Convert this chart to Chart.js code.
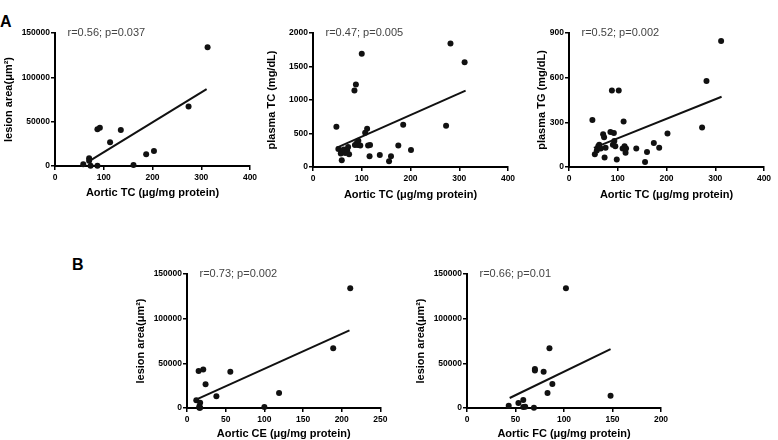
<!DOCTYPE html>
<html>
<head>
<meta charset="utf-8">
<script src="https://cdn.jsdelivr.net/npm/chart.js@4.4.1/dist/chart.umd.min.js"></script>
<style>
  html, body { margin: 0; padding: 0; background: #fff; width: 778px; height: 440px; overflow: hidden; }
  canvas { position: absolute; }
  .lab { position: absolute; font: bold 16px "Liberation Sans", Arial, sans-serif; color: #000; }
</style>
</head>
<body>
<div class="lab" style="left:0px;top:13px;">A</div>
<div class="lab" style="left:72px;top:256px;">B</div>
<canvas id="a1"></canvas>
<canvas id="a2"></canvas>
<canvas id="a3"></canvas>
<canvas id="b1"></canvas>
<canvas id="b2"></canvas>
<script>
// ---- Data ----
// Panel A1: Aortic TC vs lesion area
const a1AorticTC = [58, 70, 70, 73, 87, 87, 92, 113, 135, 161, 187, 203, 274, 313];
const a1Lesion   = [1900, 8700, 6000, 300, 300, 41400, 43200, 26700, 40600, 1100, 13200, 16900, 67000, 134000];
const a1FitX = [66, 311];
const a1FitY = [4000, 86800];
const a1Note = "r=0.56; p=0.037";

// Panel A2: Aortic TC vs plasma TC
const a2AorticTC = [48, 52, 57, 59, 61, 63, 66, 70, 72, 74, 85, 88, 86, 90, 93, 92, 97, 100, 107, 111, 113, 117, 116, 137, 156, 160, 175, 185, 201, 273, 282, 311];
const a2PlasmaTC = [600, 270, 200, 100, 230, 260, 210, 250, 300, 190, 1140, 1230, 330, 360, 390, 330, 320, 1690, 510, 570, 320, 330, 160, 180, 85, 160, 320, 630, 255, 615, 1845, 1565];
const a2FitX = [48, 313];
const a2FitY = [285, 1140];
const a2Note = "r=0.47; p=0.005";

// Panel A3: Aortic TC vs plasma TG
const a3AorticTC = [48, 53, 57, 60, 62, 65, 70, 72, 73, 75, 85, 88, 90, 92, 93, 95, 98, 102, 110, 112, 114, 116, 117, 138, 156, 160, 174, 185, 202, 273, 282, 312];
const a3PlasmaTG = [315, 86, 110, 140, 150, 125, 220, 200, 63, 130, 235, 513, 150, 228, 175, 140, 50, 513, 125, 306, 140, 95, 125, 124, 34, 100, 162, 130, 225, 266, 578, 846];
const a3FitX = [51, 313];
const a3FitY = [128, 472];
const a3Note = "r=0.52; p=0.002";

// Panel B1: Aortic CE vs lesion area
const b1AorticCE = [211, 189, 21, 15, 56, 24, 38, 119, 12, 17, 16, 100, 16, 17];
const b1Lesion   = [134000, 67000, 43200, 41400, 40600, 26700, 13200, 16900, 8700, 6000, 1900, 1100, 300, 300];
const b1FitX = [11, 210];
const b1FitY = [9000, 86900];
const b1Note = "r=0.73; p=0.002";

// Panel B2: Aortic FC vs lesion area
const b2AorticFC = [102, 85, 70, 70, 79, 88, 83, 148, 58, 53, 43, 60, 58, 69];
const b2Lesion   = [134000, 67000, 43600, 42000, 40600, 26900, 16800, 13800, 9000, 5600, 2600, 1500, 1100, 400];
const b2FitX = [44, 148];
const b2FitY = [11200, 66000];
const b2Note = "r=0.66; p=0.01";

// Axis ticks / titles
const lesionTitle = "lesion area(μm²)";
const lesionTicks = { max: 150000, step: 50000 };

const FONT = '"Liberation Sans", Arial, Helvetica, sans-serif';

const notePlugin = {
  id: 'note',
  afterDraw(chart, args, opts) {
    const { ctx, chartArea } = chart;
    ctx.save();
    ctx.font = '11px ' + FONT;
    ctx.fillStyle = '#444';
    ctx.textBaseline = 'middle';
    ctx.textAlign = 'left';
    ctx.fillText(opts.text, chartArea.left + 12.5, chartArea.top);
    ctx.restore();
  }
};

function pts(xs, ys) { return xs.map((x, i) => ({ x: x, y: ys[i] })); }

function makePanel(id, c) {
  const cv = document.getElementById(id);
  cv.width = c.cw; cv.height = c.ch;
  cv.style.left = c.cl + 'px'; cv.style.top = c.ct + 'px';
  cv.style.width = c.cw + 'px'; cv.style.height = c.ch + 'px';

  const LH = 11 * 1.2;
  const yScaleLeft = c.yTitleX - LH / 2;         // page coords
  const yW = c.al - yScaleLeft;
  const xScaleBottom = c.xTitleY + LH / 2;
  const xH = xScaleBottom - c.ab;

  const pad = {
    left: yScaleLeft - c.cl,
    right: (c.cl + c.cw) - c.ar,
    top: c.at - c.ct,
    bottom: (c.ct + c.ch) - xScaleBottom
  };

  const tickFont = { family: FONT, size: 8.5, weight: 'bold' };
  const titleFont = { family: FONT, size: 11, weight: 'bold' };

  new Chart(cv, {
    type: 'scatter',
    data: {
      datasets: [
        {
          data: pts(c.xs, c.ys),
          pointRadius: 3,
          pointHoverRadius: 3,
          pointBackgroundColor: '#111',
          pointBorderColor: '#111',
          pointBorderWidth: 0,
          clip: false,
          order: 1
        },
        {
          type: 'line',
          data: pts(c.fx, c.fy),
          borderColor: '#111',
          borderWidth: 2,
          pointRadius: 0,
          fill: false,
          clip: false,
          order: 2
        }
      ]
    },
    plugins: [notePlugin],
    options: {
      responsive: false,
      animation: false,
      devicePixelRatio: 1,
      layout: { padding: pad },
      plugins: {
        legend: { display: false },
        tooltip: { enabled: false },
        note: { text: c.note }
      },
      scales: {
        x: {
          type: 'linear',
          position: 'bottom',
          min: 0, max: c.xMax,
          afterFit: s => { s.height = xH; },
          ticks: { stepSize: c.xStep, color: '#000', font: tickFont, padding: 2.5, maxRotation: 0, callback: v => String(v) },
          grid: { drawOnChartArea: false, drawTicks: true, tickLength: 4, color: '#000', lineWidth: 1.5 },
          border: { display: true, color: '#000', width: 2 },
          title: { display: true, text: c.xTitle, color: '#000', font: titleFont, padding: 0 }
        },
        y: {
          type: 'linear',
          position: 'left',
          min: 0, max: c.yMax,
          afterFit: s => { s.width = yW; },
          ticks: { stepSize: c.yStep, color: '#000', font: tickFont, padding: 1, callback: v => String(v) },
          grid: { drawOnChartArea: false, drawTicks: true, tickLength: 4, color: '#000', lineWidth: 1.5 },
          border: { display: true, color: '#000', width: 2 },
          title: { display: true, text: c.yTitle, color: '#000', font: titleFont, padding: 0 }
        }
      }
    }
  });
}

makePanel('a1', {
  cl: 0, ct: 20, cw: 270, ch: 200,
  al: 55, ar: 250, at: 33, ab: 166,
  yTitleX: 9, xTitleY: 193,
  xMax: 400, xStep: 100, yMax: lesionTicks.max, yStep: lesionTicks.step,
  xTitle: "Aortic TC (μg/mg protein)", yTitle: lesionTitle,
  xs: a1AorticTC, ys: a1Lesion, fx: a1FitX, fy: a1FitY, note: a1Note
});

makePanel('a2', {
  cl: 255, ct: 20, cw: 265, ch: 200,
  al: 313, ar: 508, at: 33, ab: 167,
  yTitleX: 272, xTitleY: 195,
  xMax: 400, xStep: 100, yMax: 2000, yStep: 500,
  xTitle: "Aortic TC (μg/mg protein)", yTitle: "plasma TC (mg/dL)",
  xs: a2AorticTC, ys: a2PlasmaTC, fx: a2FitX, fy: a2FitY, note: a2Note
});

makePanel('a3', {
  cl: 510, ct: 20, cw: 268, ch: 200,
  al: 569, ar: 764, at: 33, ab: 167,
  yTitleX: 542, xTitleY: 195,
  xMax: 400, xStep: 100, yMax: 900, yStep: 300,
  xTitle: "Aortic TC (μg/mg protein)", yTitle: "plasma TG (mg/dL)",
  xs: a3AorticTC, ys: a3PlasmaTG, fx: a3FitX, fy: a3FitY, note: a3Note
});

makePanel('b1', {
  cl: 60, ct: 250, cw: 330, ch: 200,
  al: 187, ar: 382, at: 274, ab: 408,
  yTitleX: 141, xTitleY: 434,
  xMax: 250, xStep: 50, yMax: lesionTicks.max, yStep: lesionTicks.step,
  xTitle: "Aortic CE (μg/mg protein)", yTitle: lesionTitle,
  xs: b1AorticCE, ys: b1Lesion, fx: b1FitX, fy: b1FitY, note: b1Note
});

makePanel('b2', {
  cl: 390, ct: 250, cw: 330, ch: 200,
  al: 467, ar: 661, at: 274, ab: 408,
  yTitleX: 421, xTitleY: 434,
  xMax: 200, xStep: 50, yMax: lesionTicks.max, yStep: lesionTicks.step,
  xTitle: "Aortic FC (μg/mg protein)", yTitle: lesionTitle,
  xs: b2AorticFC, ys: b2Lesion, fx: b2FitX, fy: b2FitY, note: b2Note
});
</script>
</body>
</html>
